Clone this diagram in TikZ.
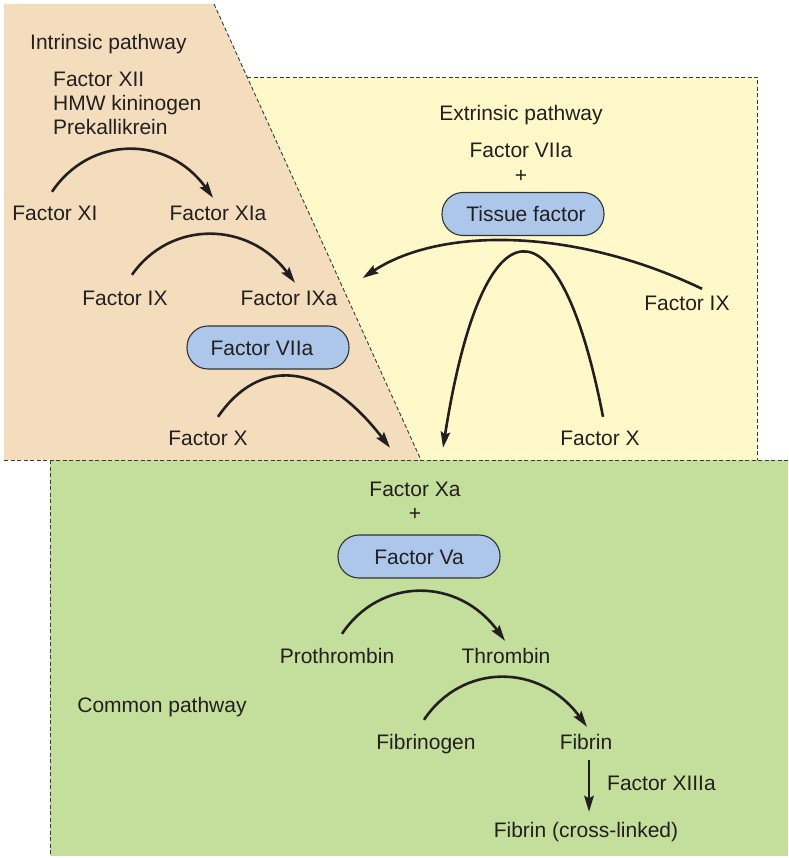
\documentclass[tikz,border=0pt]{standalone}
\usepackage{fontspec}
\setmainfont{Liberation Sans}
\usetikzlibrary{arrows.meta,calc}
\definecolor{tanbg}{HTML}{F3DDBD}
\definecolor{yellowbg}{HTML}{FFF9CA}
\definecolor{greenbg}{HTML}{C4DF9B}
\definecolor{pillblue}{HTML}{ACC7EA}
\definecolor{ink}{HTML}{231F20}
\definecolor{boxline}{HTML}{333333}
\definecolor{dashline}{HTML}{3A3A3A}
\begin{document}
\begin{tikzpicture}[x=1pt,y=-1pt,
  lbl/.style={inner sep=0pt, text height=15pt, text depth=0pt, font=\fontsize{21pt}{25pt}\selectfont, text=ink},
  pill/.style={lbl, draw=boxline, line width=1.1pt, fill=pillblue, rounded corners=21pt, minimum width=162pt, minimum height=43pt},
  border/.style={draw=dashline, line width=0.9pt, dash pattern=on 4pt off 2.5pt},
  arc/.style={draw=ink, line width=2.6pt, -{Stealth[length=16pt,width=9.5pt,inset=2.5pt]}},
]
\useasboundingbox (0,0) rectangle (788,858);
% regions
\fill[tanbg] (4,4) -- (214,4) -- (421,460) -- (4,460) -- cycle;
\fill[yellowbg] (247,77) -- (757,77) -- (757,460) -- (421,460) -- cycle;
\fill[greenbg] (50,460) rectangle (788,856);
\draw[border] (214,4) -- (421,460);
\draw[border] (247,77) -- (757,77) -- (757,460);
\draw[border] (4,460) -- (788,460);
\draw[border] (50,460) -- (50,856);

% intrinsic pathway
\node[lbl, anchor=west] (intr) at (30,42) {Intrinsic pathway};
\node[lbl, anchor=west] (f12) at (53,79) {Factor XII};
\node[lbl, anchor=west] (hmw) at (53,103) {HMW kininogen};
\node[lbl, anchor=west] (prek) at (53,127) {Prekallikrein};
\node[lbl] (xi) at (55,213) {Factor XI};
\node[lbl] (xia) at (218,213) {Factor XIa};
\node[lbl] (ix) at (125,298) {Factor IX};
\node[lbl] (ixa) at (289,298) {Factor IXa};
\node[pill] (f7box) at (268,347.5) {\hspace*{-12pt}Factor VIIa};
\node[lbl] (xl) at (208,438) {Factor X};

% extrinsic pathway
\node[lbl] (ext) at (521,113) {Extrinsic pathway};
\node[lbl] (f7e) at (521,150) {Factor VIIa};
\node[lbl] (plus1) at (521,175) {+};
\node[pill] (tf) at (523,214) {\hspace*{6pt}Tissue factor};
\node[lbl] (ixr) at (687,303) {Factor IX};
\node[lbl] (xr) at (600,438) {Factor X};

% common pathway
\node[lbl] (xa) at (415,489) {Factor Xa};
\node[lbl] (plus2) at (415,513) {+};
\node[pill] (va) at (419,556.5) {Factor Va};
\node[lbl] (pro) at (337,656) {Prothrombin};
\node[lbl] (thr) at (506,656) {Thrombin};
\node[lbl] (common) at (162,705) {Common pathway};
\node[lbl] (fgn) at (426,742) {Fibrinogen};
\node[lbl] (fib) at (586,742) {Fibrin};
\node[lbl, anchor=west] (f13) at (607,783) {Factor XIIIa};
\node[lbl] (fibx) at (586,830) {Fibrin (cross-linked)};

% connectors
\draw[arc] ($(xi.north)+(-3,-13.5)$) .. controls (90,135) and (168,135) .. ($(xia.north)+(-5,-7.5)$);
\draw[arc] ($(ix.north)+(7,-15.5)$) .. controls (170,220.3) and (248,220.3) .. ($(ixa.north)+(6,-7.5)$);
\draw[arc] ($(xl.north)+(10,-13.5)$) .. controls (258,358.5) and (321,358.5) .. ($(xa.north)+(-25,-33.5)$);
\draw[arc] ($(ixr.north)+(15,-6.5)$) .. controls (573,227) and (440,227) .. ($(ixa.east)+(25,-20)$);
\draw[arc] ($(xr.north)+(3,-13.5)$) .. controls (560,193.2) and (483,193.2) .. ($(xa.north)+(28,-33.5)$);
\draw[arc] ($(pro.north)+(5,-14.5)$) .. controls (380,576.8) and (458,576.8) .. ($(thr.north)+(-1,-7.5)$);
\draw[arc] ($(fgn.north)+(-2,-14.5)$) .. controls (462,662.8) and (540,662.8) .. ($(fib.north)+(1,-7.5)$);
\draw[arc] ($(fib.south)+(3,10.5)$) -- ($(fibx.north)+(3,-10.5)$);
\end{tikzpicture}
\end{document}
